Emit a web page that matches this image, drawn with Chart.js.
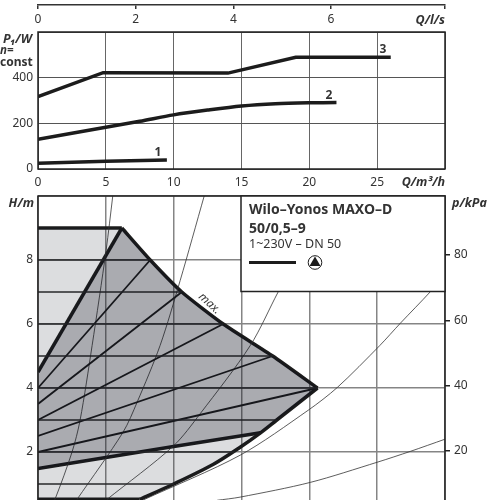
<!DOCTYPE html>
<html>
<head>
<meta charset="utf-8">
<script src="https://cdn.jsdelivr.net/npm/chart.js@4/dist/chart.umd.min.js"></script>
<style>
  html, body { margin: 0; padding: 0; width: 487px; height: 500px; overflow: hidden; background: #fff; }
  canvas { position: absolute; left: 0; }
  #flowAxis { top: 0; }
  #powerChart { top: 0; }
  #headChart { top: 190px; }
</style>
</head>
<body>
<canvas id="powerChart" width="487" height="190"></canvas>
<canvas id="flowAxis" width="487" height="32"></canvas>
<canvas id="headChart" width="487" height="350"></canvas>
<script>
// power input, speed stages 1-3
const power1Q = [0, 5, 9.5];
const power1W = [25, 34, 39];
const power2Q = [0, 5, 7.5, 10, 12.5, 15, 17.5, 20, 22];
const power2W = [130, 183, 209, 237, 258, 276, 286, 290, 291];
const power3Q = [0, 4.8, 14, 19, 26];
const power3W = [317, 422, 420, 489, 489];

// pump field outline
const maxCurveQ = [6.18, 8.27, 10.6, 13.65, 17.3, 20.6];
const maxCurveH = [9, 8, 7, 6, 5, 4];
const lowerEdgeQ = [20.6, 17.6, 16.4, 14.9, 12.9, 10, 7.5];
const lowerEdgeH = [4, 3, 2.6, 2.15, 1.61, 1, 0.52];
const leftEdgeQ = [0, 6.18];
const leftEdgeH = [4.5, 9];
const baseLineQ = [0, 5, 10, 15.6, 16.4];
const baseLineH = [1.48, 1.83, 2.17, 2.55, 2.6];
const topLineQ = [0, 6.18];
const topLineH = [9, 9];
const bottomLineQ = [0, 7.5];
const bottomLineH = [0.52, 0.52];

// control lines start on the H axis and end on the max curve
const rayStartH = [4, 3.5, 3, 2.5, 2];
const rayEndQ = [8.27, 10.6, 13.65, 17.3, 20.6];
const rayEndH = [8, 7, 6, 5, 4];

// horizontal steps inside the field
const levelH = [1, 2, 3, 4, 5, 6, 7, 8];
const levelEndQ = [10, 14.5, 17.6, 20.6, 17.3, 13.65, 10.6, 8.27];

// system curves
const systemAQ = [0.9, 1.25, 2.51, 3.1, 3.99, 5.02, 5.51];
const systemAH = [0.27, 0.52, 2, 2.99, 5.33, 8.3, 10];
const systemBQ = [2.88, 6.27, 7.3, 9, 10.48, 12.25];
const systemBH = [0.52, 2.62, 3.55, 5.33, 7.36, 10];
const systemCQ = [5.09, 9.96, 11.96, 15.65, 17.7, 20];
const systemCH = [0.52, 2.18, 3.2, 5.33, 7, 8.8];
const systemDQ = [7.75, 14.9, 19.9, 22.07, 25.2, 26.7, 28.9, 30];
const systemDH = [0.5, 1.9, 3.3, 4.02, 5.33, 6.02, 7, 7.55];
const systemEQ = [13.2, 14.9, 20.07, 25, 27.45, 30];
const systemEH = [0.49, 0.59, 1.05, 1.68, 2.02, 2.4];

const FONT = '"Noto Sans", sans-serif';
const TEXT = "#333";
const INK = "#1c1c1c";

function pts(qs, vs) {
  return qs.map((q, i) => ({ x: q, y: vs[i] }));
}

function line(data, width, color, tension) {
  return {
    data: data,
    borderWidth: width,
    borderColor: color || INK,
    backgroundColor: "transparent",
    pointRadius: 0,
    tension: tension || 0,
    fill: false,
  };
}

function area(data, color) {
  return {
    data: data,
    borderWidth: 0,
    borderColor: "transparent",
    backgroundColor: color,
    pointRadius: 0,
    tension: 0,
    fill: "shape",
  };
}

function label(ctx, text, x, y, font, align) {
  ctx.font = font + " " + FONT;
  ctx.fillStyle = TEXT;
  ctx.textAlign = align || "left";
  ctx.textBaseline = "alphabetic";
  ctx.fillText(text, x, y);
}

// keeps the plot edges where the layout padding puts them
function fixedSize(prop, size) {
  return function (scale) {
    scale[prop] = size;
    scale.paddingTop = 0;
    scale.paddingBottom = 0;
  };
}

// l/s scale sitting above the power plot
new Chart(document.getElementById("flowAxis"), {
  type: "line",
  data: { datasets: [] },
  options: {
    responsive: false,
    animation: false,
    layout: { padding: { left: 38, right: 42, top: 4, bottom: 0 } },
    plugins: { legend: { display: false }, tooltip: { enabled: false } },
    scales: {
      x: {
        type: "linear",
        min: 0,
        max: 30 / 3.6,
        afterFit: fixedSize("height", 27),
        border: { color: "#333", width: 1.5 },
        grid: { drawOnChartArea: false, color: "#333", tickLength: 4, lineWidth: 1.5 },
        ticks: {
          stepSize: 2,
          maxRotation: 0,
          autoSkip: false,
          padding: 3,
          color: TEXT,
          font: { family: FONT, size: 12 },
          callback: (v) => (v === 8 || v % 2 !== 0 ? "" : v),
        },
      },
      y: { display: false },
    },
  },
  plugins: [{
    id: "flowTitle",
    afterDraw(chart) {
      label(chart.ctx, "Q/l/s", 445, 24, "italic bold 12.5px", "right");
    },
  }],
});

// power input plot
new Chart(document.getElementById("powerChart"), {
  type: "line",
  data: {
    datasets: [
      line(pts(power1Q, power1W), 3.5),
      line(pts(power2Q, power2W), 3.5, INK, 0.3),
      line(pts(power3Q, power3W), 3.5),
    ],
  },
  options: {
    responsive: false,
    animation: false,
    layout: { padding: { left: 0, right: 42, top: 32, bottom: 0 } },
    plugins: { legend: { display: false }, tooltip: { enabled: false } },
    scales: {
      x: {
        type: "linear",
        min: 0,
        max: 30,
        afterFit: fixedSize("height", 21),
        border: { display: false },
        grid: { color: "#666", lineWidth: 1, drawTicks: false },
        ticks: {
          stepSize: 5,
          maxRotation: 0,
          autoSkip: false,
          padding: 6,
          color: TEXT,
          font: { family: FONT, size: 12 },
          callback: (v) => (v === 30 ? "" : v),
        },
      },
      y: {
        min: 0,
        max: 600,
        afterFit: fixedSize("width", 38),
        border: { display: false },
        grid: { color: "#555", lineWidth: 1, drawTicks: false },
        ticks: {
          stepSize: 200,
          padding: 5,
          color: TEXT,
          font: { family: FONT, size: 12 },
          callback: (v) => (v === 600 ? "" : v),
        },
      },
    },
  },
  plugins: [{
    id: "powerLabels",
    afterDraw(chart) {
      const ctx = chart.ctx;
      const a = chart.chartArea;
      ctx.strokeStyle = "#222";
      ctx.lineWidth = 1.5;
      ctx.strokeRect(a.left, a.top, a.right - a.left, a.bottom - a.top);
      label(ctx, "P₁/W", 3, 43, "italic bold 12.5px");
      label(ctx, "n=", 0, 54, "italic bold 11.5px");
      label(ctx, "const", 0, 66, "bold 12px");
      label(ctx, "1", 158, 156, "bold 12px", "center");
      label(ctx, "2", 329, 99, "bold 12px", "center");
      label(ctx, "3", 383, 53, "bold 12px", "center");
      label(ctx, "Q/m³/h", 445, 186, "italic bold 12.5px", "right");
    },
  }],
});

const envelope = pts(
  [0, 0].concat(topLineQ.slice(1), maxCurveQ.slice(1), lowerEdgeQ.slice(1)),
  [0.52, 9].concat(topLineH.slice(1), maxCurveH.slice(1), lowerEdgeH.slice(1))
);

const fieldQ = maxCurveQ.concat(lowerEdgeQ.slice(1, 3), baseLineQ.slice(0, -1).reverse(), leftEdgeQ);
const fieldH = maxCurveH.concat(lowerEdgeH.slice(1, 3), baseLineH.slice(0, -1).reverse(), leftEdgeH);

const headSets = [
  area(envelope, "rgba(20, 25, 40, 0.15)"),
  area(pts(fieldQ, fieldH), "rgba(10, 10, 20, 0.24)"),
];

levelH.forEach((h, i) => {
  headSets.push(line(pts([0, levelEndQ[i]], [h, h]), 1.6, "#2a2a2a"));
});
rayStartH.forEach((h, i) => {
  headSets.push(line(pts([0, rayEndQ[i]], [h, rayEndH[i]]), 1.8));
});
[
  [systemAQ, systemAH],
  [systemBQ, systemBH],
  [systemCQ, systemCH],
  [systemDQ, systemDH],
  [systemEQ, systemEH],
].forEach((c) => {
  headSets.push(line(pts(c[0], c[1]), 0.8, "#333", 0.3));
});
headSets.push(line(pts(leftEdgeQ, leftEdgeH), 3.5));
headSets.push(line(pts(maxCurveQ, maxCurveH), 3.5, INK, 0.2));
headSets.push(line(pts(lowerEdgeQ, lowerEdgeH), 3.5, INK, 0.3));
headSets.push(line(pts(baseLineQ, baseLineH), 3.5));
headSets.push(line(pts(topLineQ, topLineH), 3.5));
headSets.push(line(pts(bottomLineQ, bottomLineH), 3.5));

// head / pressure plot, runs on below the bottom edge of the page
new Chart(document.getElementById("headChart"), {
  type: "line",
  data: { datasets: headSets },
  options: {
    responsive: false,
    animation: false,
    layout: { padding: { left: 0, right: 0, top: 6, bottom: 24 } },
    plugins: { legend: { display: false }, tooltip: { enabled: false } },
    scales: {
      x: {
        type: "linear",
        min: 0,
        max: 30,
        afterFit: fixedSize("height", 0),
        border: { display: false },
        grid: { color: "#858585", lineWidth: 1.5, drawTicks: false },
        ticks: { display: false, stepSize: 5, autoSkip: false },
      },
      y: {
        min: 0,
        max: 10,
        afterFit: fixedSize("width", 38),
        border: { display: false },
        grid: { color: "#858585", lineWidth: 1.5, drawTicks: false },
        ticks: {
          stepSize: 2,
          padding: 5,
          color: TEXT,
          font: { family: FONT, size: 12 },
          callback: (v) => (v === 0 || v === 10 ? "" : v),
        },
      },
      // 1 m of head = 9.81 kPa
      p: {
        position: "right",
        min: 0,
        max: 98.1,
        afterFit: fixedSize("width", 42),
        border: { display: false },
        grid: { drawOnChartArea: false, color: "#222", lineWidth: 1.5, tickLength: 5 },
        ticks: {
          stepSize: 20,
          includeBounds: false,
          padding: 4,
          color: TEXT,
          font: { family: FONT, size: 12 },
          callback: (v) => (v === 0 ? "" : v),
        },
      },
    },
  },
  plugins: [{
    id: "headLabels",
    afterDraw(chart) {
      const ctx = chart.ctx;
      const a = chart.chartArea;

      ctx.strokeStyle = "#222";
      ctx.lineWidth = 1.5;
      ctx.strokeRect(a.left, a.top, a.right - a.left, a.bottom - a.top);

      label(ctx, "H/m", 34, 17, "italic bold 12.5px", "right");
      label(ctx, "p/kPa", 452, 17, "italic bold 12.5px");

      ctx.save();
      ctx.translate(210, 113);
      ctx.rotate((42 * Math.PI) / 180);
      label(ctx, "max.", 0, 4, "italic 11.5px", "center");
      ctx.restore();

      // type plate
      ctx.fillStyle = "#fff";
      ctx.fillRect(241, 6, 204, 95.5);
      ctx.strokeStyle = "#222";
      ctx.lineWidth = 1.5;
      ctx.strokeRect(241, 6, 204, 95.5);
      label(ctx, "Wilo–Yonos MAXO–D", 249, 24, "bold 14px");
      label(ctx, "50/0,5–9", 249, 43, "bold 14px");
      label(ctx, "1~230V – DN 50", 249, 58, "12.5px");

      ctx.strokeStyle = INK;
      ctx.lineWidth = 3;
      ctx.beginPath();
      ctx.moveTo(249, 72.5);
      ctx.lineTo(296, 72.5);
      ctx.stroke();

      // pump symbol
      ctx.lineWidth = 1;
      ctx.beginPath();
      ctx.arc(315, 72.5, 6.8, 0, Math.PI * 2);
      ctx.stroke();
      ctx.fillStyle = INK;
      ctx.beginPath();
      ctx.moveTo(315, 66.5);
      ctx.lineTo(320.5, 76);
      ctx.lineTo(309.5, 76);
      ctx.closePath();
      ctx.fill();
    },
  }],
});
</script>
</body>
</html>
